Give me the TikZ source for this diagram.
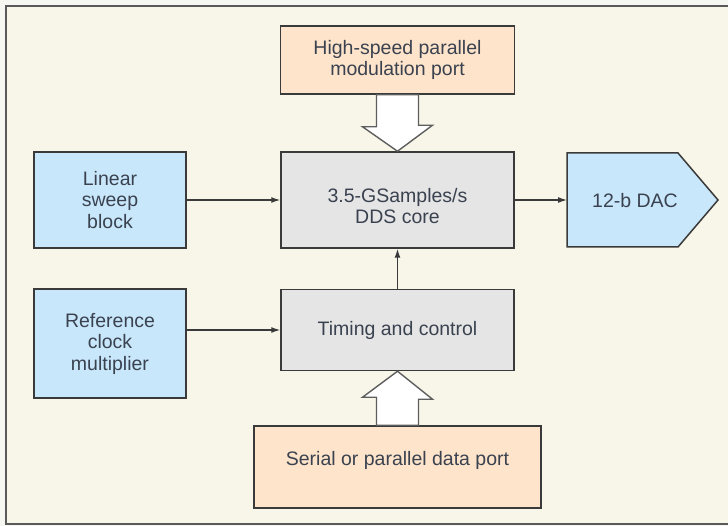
\documentclass[tikz,border=0pt]{standalone}
\usepackage{fontspec}
\setmainfont{Liberation Sans}
\usetikzlibrary{arrows.meta,calc}
\definecolor{cream}{HTML}{F8F6E8}
\definecolor{outside}{HTML}{F7F7F2}
\definecolor{framecol}{HTML}{5A5A5A}
\definecolor{bluefill}{HTML}{C9E7FA}
\definecolor{orangefill}{HTML}{FDE4CA}
\definecolor{grayfill}{HTML}{E5E5E5}
\definecolor{edgecol}{HTML}{3A3A3A}
\definecolor{txtcol}{HTML}{3A4250}
\definecolor{hollowcol}{HTML}{5E5E5E}
\tikzset{
  boxbase/.style={draw=edgecol, line width=1.5pt, rectangle, inner sep=0pt, align=center,
    text=txtcol, font=\fontsize{19.5}{21.5}\selectfont},
  bluebox/.style={boxbase, fill=bluefill},
  orangebox/.style={boxbase, fill=orangefill},
  graybox/.style={boxbase, fill=grayfill},
  conn/.style={draw=edgecol, line width=1.3pt, -{Latex[length=9pt,width=6pt]}},
  hollow/.style={draw=hollowcol, line width=1.4pt, fill=white, line join=miter},
}
\begin{document}
\begin{tikzpicture}[x=1pt,y=-1pt]
\useasboundingbox (0,0) rectangle (728,526);
\clip (0,0) rectangle (728,526);
\fill[outside] (0,0) rectangle (728,526);
\draw[draw=framecol, line width=2.2pt, fill=cream] (6,6) rectangle (760,524);

\node[orangebox, minimum width=234pt, minimum height=68pt] (top) at (397.5,60)
  {High-speed parallel\\modulation port};
\node[graybox, minimum width=233pt, minimum height=96pt,
  label={[name=coretext, text=txtcol, align=center, font=\fontsize{19.5}{21.5}\selectfont, yshift=-6pt]center:3.5-GSamples/s\\DDS core}]
  (core) at (397.5,200) {};
\node[graybox, minimum width=233pt, minimum height=81pt] (timing) at (397.5,330)
  {Timing and control};
\node[bluebox, minimum width=152pt, minimum height=96pt] (linear) at (110,200)
  {Linear\\sweep\\block};
\node[bluebox, minimum width=152pt, minimum height=109pt] (ref) at (110,343.5)
  {Reference\\clock\\multiplier};
\node[orangebox, minimum width=287pt, minimum height=82pt,
  label={[name=serialtext, text=txtcol, font=\fontsize{19.5}{21.5}\selectfont, yshift=7pt]center:Serial or parallel data port}]
  (serial) at (397.5,467) {};

% DAC pentagon
\coordinate (d1) at (567,153);
\coordinate (d2) at (678,153);
\coordinate (d3) at (718,200);
\coordinate (d4) at (678,247);
\coordinate (d5) at (567,247);
\draw[draw=edgecol, line width=1.5pt, fill=bluefill, line join=miter] (d1) -- (d2) -- (d3) -- (d4) -- (d5) -- cycle;
\coordinate (dacw) at (567,200);
\node[text=txtcol, font=\fontsize{19.5}{21.5}\selectfont] (dac) at (635,201) {12-b DAC};

% hollow arrows
\draw[hollow] ([xshift=-21pt]top.south) -- ++(0,32) -- ++(-14,0) -- (core.north)
  -- ++(35,-26) -- ++(-14,0) -- ([xshift=21pt]top.south) -- cycle;
\draw[hollow] ([xshift=-21pt]serial.north) -- ++(0,-28) -- ++(-14,0) -- (timing.south)
  -- ++(35,28) -- ++(-14,0) -- ([xshift=21pt]serial.north) -- cycle;

% connectors
\draw[conn] (linear.east) -- (core.west);
\draw[conn] (ref.east |- timing.west) -- (timing.west);
\draw[conn] (core.east) -- (dacw);
\draw[conn] (timing.north) -- (core.south);
\end{tikzpicture}
\end{document}
